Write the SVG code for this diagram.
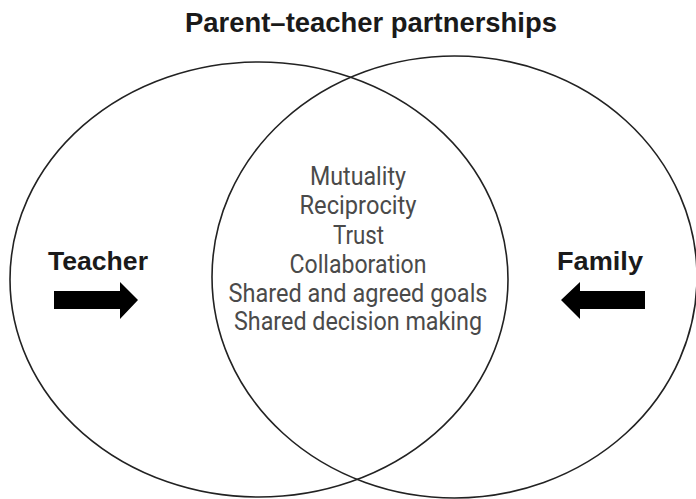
<svg xmlns="http://www.w3.org/2000/svg" width="696" height="499" viewBox="0 0 696 499">
<style>
.ring{fill:none;stroke:#222;stroke-width:1.6}
.head{font-family:"Liberation Sans",Arial,sans-serif;font-weight:bold;fill:#1a1a1a}
.item{font-family:Roboto,"Liberation Sans",sans-serif;font-size:25px;fill:#4a4a4a;text-anchor:middle}
.arrow{fill:#000}
</style>
<rect width="696" height="499" fill="#fff"/>
<text class="head" x="371" y="32" font-size="27" text-anchor="middle" textLength="372" lengthAdjust="spacingAndGlyphs">Parent–teacher partnerships</text>
<g id="teacher">
<ellipse class="ring" cx="259" cy="279.5" rx="249" ry="217.5"/>
<text class="head" x="48" y="270" font-size="26" textLength="100" lengthAdjust="spacingAndGlyphs">Teacher</text>
</g>
<g id="family">
<ellipse class="ring" cx="454.5" cy="277" rx="242.5" ry="221"/>
<text class="head" x="557" y="270" font-size="26" textLength="86" lengthAdjust="spacingAndGlyphs">Family</text>
</g>
<g id="overlap">
<text class="item" x="358" y="185" textLength="96" lengthAdjust="spacingAndGlyphs">Mutuality</text>
<text class="item" x="358" y="214" textLength="117" lengthAdjust="spacingAndGlyphs">Reciprocity</text>
<text class="item" x="358.5" y="243.5" textLength="51" lengthAdjust="spacingAndGlyphs">Trust</text>
<text class="item" x="358" y="272.5" textLength="137" lengthAdjust="spacingAndGlyphs">Collaboration</text>
<text class="item" x="358" y="301.5" textLength="259" lengthAdjust="spacingAndGlyphs">Shared and agreed goals</text>
<text class="item" x="358" y="330" textLength="248" lengthAdjust="spacingAndGlyphs">Shared decision making</text>
</g>
<g id="connectors">
<polygon class="arrow" points="54,291 120,291 120,282 138,300 120,319 120,309 54,309"/>
<polygon class="arrow" points="645,291 580,291 580,282 561,300 580,319 580,309 645,309"/>
</g>
</svg>
